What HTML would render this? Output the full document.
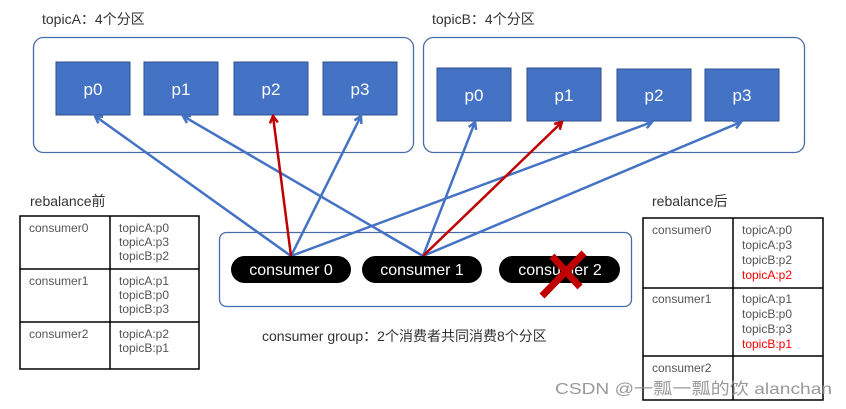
<!DOCTYPE html>
<html><head><meta charset="utf-8"><style>
html,body{margin:0;padding:0;background:#fff;}
body{width:846px;height:409px;overflow:hidden;position:relative;font-family:"Liberation Sans","Noto Sans CJK SC",sans-serif;}
</style></head><body>
<svg width="846" height="409" xmlns="http://www.w3.org/2000/svg" style="position:absolute;left:0;top:0" font-family="Liberation Sans, Noto Sans CJK SC, sans-serif">
<defs>
<marker id="ab" markerWidth="10" markerHeight="10" refX="8" refY="5" orient="auto" markerUnits="userSpaceOnUse"><path d="M1,1 L8,5 L1,9" fill="none" stroke="#4472c4" stroke-width="2.5"/></marker>
<marker id="ar" markerWidth="10" markerHeight="10" refX="8" refY="5" orient="auto" markerUnits="userSpaceOnUse"><path d="M1,1 L8,5 L1,9" fill="none" stroke="#c00000" stroke-width="2.5"/></marker>
</defs>
<text x="42" y="24" font-size="14" fill="#333">topicA：4个分区</text>
<text x="432" y="24" font-size="14" fill="#333">topicB：4个分区</text>
<rect x="33.5" y="37.5" width="380" height="115" rx="10" fill="#fff" stroke="#4a6aa8" stroke-width="1.3"/>
<rect x="423.5" y="37.5" width="381" height="115" rx="10" fill="#fff" stroke="#4a6aa8" stroke-width="1.3"/>
<g fill="#4472c4" stroke="#2f528f" stroke-width="1">
<rect x="56" y="62" width="74" height="53"/><rect x="144" y="62" width="74" height="53"/><rect x="234" y="62" width="74" height="53"/><rect x="323" y="62" width="74" height="53"/>
<rect x="437" y="68" width="74" height="53"/><rect x="527" y="68" width="74" height="53"/><rect x="617" y="69" width="74" height="52"/><rect x="705" y="69" width="74" height="52"/>
</g>
<g fill="#fff" font-size="17" text-anchor="middle">
<text x="93" y="95">p0</text><text x="181" y="95">p1</text><text x="271" y="95">p2</text><text x="360" y="95">p3</text>
<text x="474" y="101">p0</text><text x="564" y="101">p1</text><text x="654" y="101">p2</text><text x="742" y="101">p3</text>
</g>
<rect x="219.5" y="232.5" width="412" height="74" rx="7" fill="#fff" stroke="#4a6aa8" stroke-width="1.3"/>
<g stroke="#4472c4" stroke-width="2.5" fill="none" marker-end="url(#ab)">
<line x1="291" y1="256" x2="95" y2="116"/>
<line x1="291" y1="256" x2="361" y2="116"/>
<line x1="291" y1="256" x2="652" y2="122"/>
<line x1="423" y1="256" x2="183" y2="116"/>
<line x1="423" y1="256" x2="475" y2="122"/>
<line x1="423" y1="256" x2="741" y2="122"/>
</g>
<g stroke="#c00000" stroke-width="2.5" fill="none" marker-end="url(#ar)">
<line x1="291" y1="256" x2="273" y2="116"/>
<line x1="423" y1="256" x2="562" y2="122"/>
</g>
<g fill="#000"><rect x="231" y="256" width="120" height="27" rx="13.5"/><rect x="362" y="256" width="120" height="27" rx="13.5"/><rect x="499" y="256" width="121" height="27" rx="13.5"/></g>
<g fill="#fff" font-size="16" text-anchor="middle"><text x="291" y="275">consumer 0</text><text x="422" y="275">consumer 1</text><text x="560" y="275">consumer 2</text></g>
<g stroke="#c00000" stroke-width="7" stroke-linecap="butt"><line x1="542" y1="296" x2="584" y2="253"/><line x1="552" y1="256" x2="580" y2="287"/></g>
<text x="262" y="341" font-size="14" fill="#333">consumer group：2个消费者共同消费8个分区</text>
<text x="30" y="206" font-size="14" fill="#333">rebalance前</text>
<g fill="none" stroke="#000" stroke-width="1.5">
<rect x="20" y="216" width="179" height="153"/><line x1="20" y1="269" x2="199" y2="269"/><line x1="20" y1="322" x2="199" y2="322"/><line x1="110" y1="216" x2="110" y2="369"/>
</g>
<g font-size="12" fill="#555">
<text x="29" y="232">consumer0</text><text x="29" y="285">consumer1</text><text x="29" y="338">consumer2</text>
<text x="119" y="232">topicA:p0</text><text x="119" y="246">topicA:p3</text><text x="119" y="260">topicB:p2</text>
<text x="119" y="285">topicA:p1</text><text x="119" y="299">topicB:p0</text><text x="119" y="313">topicB:p3</text>
<text x="119" y="338">topicA:p2</text><text x="119" y="352">topicB:p1</text>
</g>
<text x="652" y="206" font-size="14" fill="#333">rebalance后</text>
<g fill="none" stroke="#000" stroke-width="1.5">
<rect x="643" y="218" width="180" height="182"/><line x1="643" y1="288" x2="823" y2="288"/><line x1="643" y1="356" x2="823" y2="356"/><line x1="733" y1="218" x2="733" y2="400"/>
</g>
<g font-size="12" fill="#555">
<text x="652" y="234">consumer0</text><text x="652" y="303">consumer1</text><text x="652" y="372">consumer2</text>
<text x="742" y="234">topicA:p0</text><text x="742" y="249">topicA:p3</text><text x="742" y="264">topicB:p2</text><text x="742" y="279" fill="#ff0000">topicA:p2</text>
<text x="742" y="303">topicA:p1</text><text x="742" y="318">topicB:p0</text><text x="742" y="333">topicB:p3</text><text x="742" y="348" fill="#ff0000">topicB:p1</text>
</g>
<text x="555" y="394" font-size="16" fill="#888" opacity="0.85" textLength="277" lengthAdjust="spacingAndGlyphs">CSDN @一瓢一瓢的饮 alanchan</text>
</svg>
</body></html>
